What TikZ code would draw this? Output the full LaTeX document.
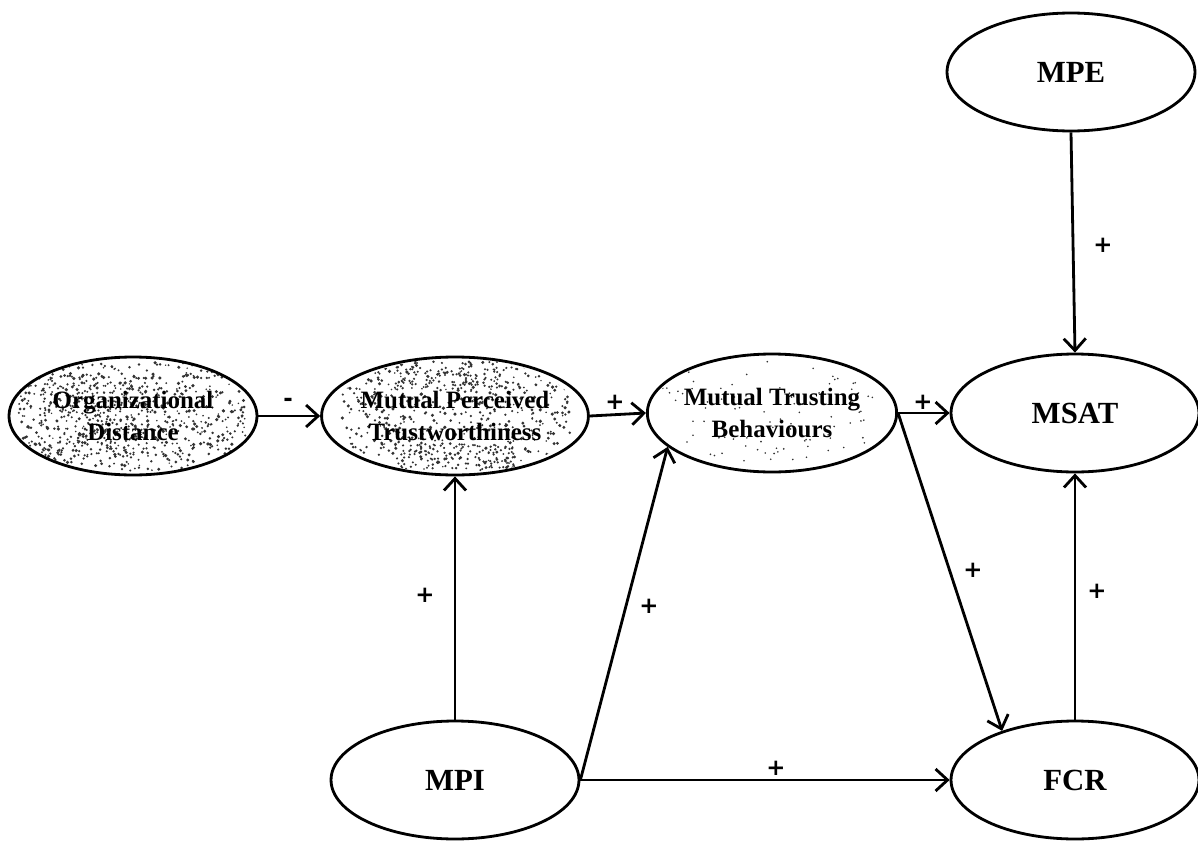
\documentclass[tikz,border=0pt]{standalone}
\usepackage{fontspec}
\setmainfont{Liberation Serif}
\newfontfamily\signfont{DejaVu Sans}
\usetikzlibrary{arrows.meta,shapes.geometric,calc}

\begin{document}
\begin{tikzpicture}[x=0.02cm,y=-0.02cm,
  concept/.style={ellipse,draw,line width=1.6pt,minimum width=4.96cm,
    minimum height=2.36cm,inner sep=0pt,
    font=\bfseries\fontsize{17.5}{20}\selectfont},
  latent/.style={concept,align=center,
    font=\bfseries\fontsize{14.2}{18.2}\selectfont},
  link/.style={line width=1.6pt,
    -{Straight Barb[length=2.4mm,width=4.4mm,line width=1.6pt]}},
  sign/.style={inner sep=0pt,font=\signfont\bfseries\fontsize{13}{13}\selectfont}]

\useasboundingbox (0,0) rectangle (1198,842);

% grainy shading of the three trust constructs
\pgfmathsetseed{11}
\begin{scope}
  \clip (133,416) ellipse [x radius=122, y radius=58];
  \foreach \k in {1,...,650} {
    \pgfmathsetmacro{\px}{rand*115}
    \pgfmathsetmacro{\py}{rand*55}
    \pgfmathsetmacro{\pr}{0.8+1.0*rnd}
    \fill[black!80] (133+\px,416+\py) circle (\pr);
  }
  \foreach \k in {1,...,250} {
    \pgfmathsetmacro{\px}{-40+rand*55}
    \pgfmathsetmacro{\py}{rand*40}
    \fill[black!80] (133+\px,416+\py) circle (1.2);
  }
\end{scope}
\begin{scope}
  \clip (455,416) ellipse [x radius=123, y radius=58];
  \foreach \k in {1,...,560} {
    \pgfmathsetmacro{\px}{rand*115}
    \pgfmathsetmacro{\py}{rand*55}
    \pgfmathsetmacro{\pr}{0.8+1.0*rnd}
    \fill[black!80] (455+\px,416+\py) circle (\pr);
  }
  \foreach \k in {1,...,200} {
    \pgfmathsetmacro{\px}{rand*60}
    \pgfmathsetmacro{\py}{(rnd<0.5 ? -38 : 40)+rand*12}
    \fill[black!80] (455+\px,416+\py) circle (1.2);
  }
\end{scope}
\begin{scope}
  \clip (772,413) ellipse [x radius=121, y radius=58];
  \foreach \k in {1,...,100} {
    \pgfmathsetmacro{\px}{rand*112}
    \pgfmathsetmacro{\py}{rand*52}
    \fill[black!80] (772+\px,413+\py) circle (0.9);
  }
\end{scope}

% constructs
\node[latent]  (od)   at (133,416) {Organizational\\Distance};
\node[latent]  (mpt)  at (455,416) {Mutual Perceived\\Trustworthiness};
\node[latent]  (mtb)  at (772,413) {Mutual Trusting\\Behaviours};
\node[concept] (msat) at (1075,413) {MSAT};
\node[concept] (mpe)  at (1071,72)  {MPE};
\node[concept] (mpi)  at (455,780) {MPI};
\node[concept] (fcr)  at (1075,780) {FCR};

% hypothesised paths
\draw[link] (od.east) -- (mpt.west);
\draw[link] (mpt.east) -- (mtb.west);
\draw[link] (mtb.east) -- (msat.west);
\draw[link] (mpe.south) -- (msat.north);
\draw[link] (mpi.north) -- (mpt.south);
\draw[link] (mpi.east) -- (mtb.198);
\draw[link] (mpi.east) -- (fcr.west);
\draw[link] (mtb.east) -- (fcr.146);
\draw[link] (fcr.north) -- (msat.south);

% signs of the paths
\node[sign] (s1) at (288,402) {-};
\node[sign] (s2) at (615,402) {+};
\node[sign] (s3) at (923,402) {+};
\node[sign] (s4) at (1103,245) {+};
\node[sign] (s5) at (425,595) {+};
\node[sign] (s6) at (649,606) {+};
\node[sign] (s7) at (776,768) {+};
\node[sign] (s8) at (973,570) {+};
\node[sign] (s9) at (1097,591) {+};
\end{tikzpicture}
\end{document}
